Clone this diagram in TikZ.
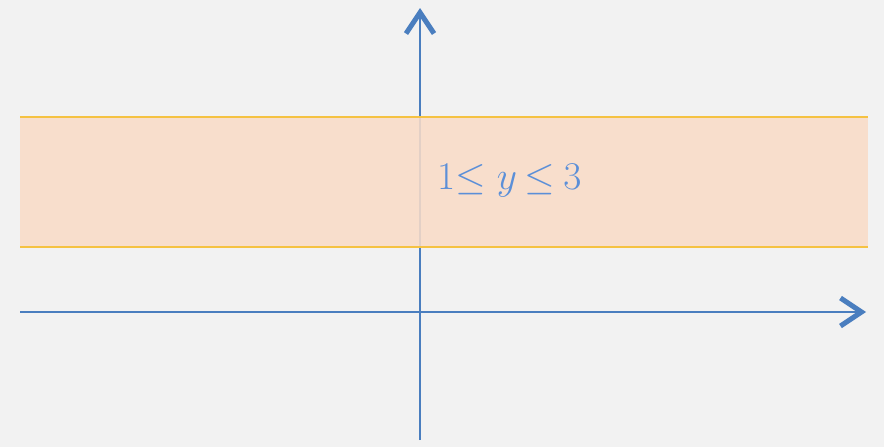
\documentclass[tikz,border=0pt]{standalone}
\usetikzlibrary{arrows.meta}
\usepackage{graphicx}
\definecolor{bg}{HTML}{F2F2F2}
\definecolor{band}{HTML}{F9DCC7}
\definecolor{bandline}{HTML}{F5C242}
\definecolor{axis}{HTML}{4A7EBF}
\definecolor{txt}{HTML}{5B8FD8}
\begin{document}
\begin{tikzpicture}[x=1pt,y=-1pt,
  axisline/.style={draw=axis,line width=2pt,-{Straight Barb[length=21pt,width=28pt,line width=5pt]}},
  bandfill/.style={fill=band,fill opacity=0.88,draw=none},
  bandedge/.style={draw=bandline,line width=1.8pt}]
\useasboundingbox[fill=bg] (0,0) rectangle (884,447);
% axes
\coordinate (xs) at (20,312);
\coordinate (xe) at (866,312);
\coordinate (ys) at (420,440);
\coordinate (ye) at (420,8);
\draw[axisline] (xs) -- (xe);
\draw[axisline] (ys) -- (ye);
% band
\fill[bandfill] (20,118) rectangle (868,246);
\coordinate (tl) at (20,117);
\coordinate (tr) at (868,117);
\coordinate (bl) at (20,247);
\coordinate (br) at (868,247);
\draw[bandedge] (tl) -- (tr);
\draw[bandedge] (bl) -- (br);
% label
\node[text=txt,anchor=west,inner sep=0pt] (lbl) at (437,181)
  {\scalebox{1.58}{\Huge $1{\leq}\hspace{7pt}y\hspace{5pt}{\leq}\hspace{5pt}3$}};
\end{tikzpicture}
\end{document}
